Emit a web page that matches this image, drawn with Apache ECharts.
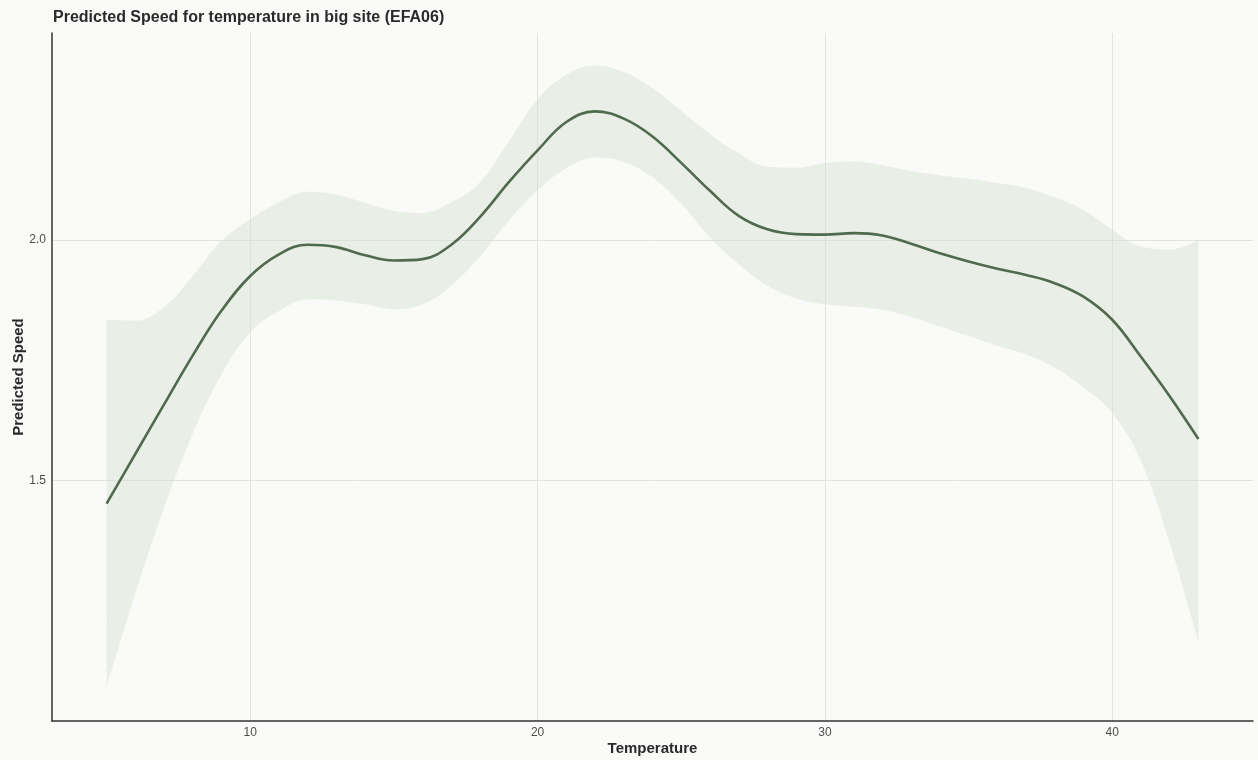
<!DOCTYPE html>
<html>
<head>
<meta charset="utf-8">
<title>Predicted Speed for temperature in big site (EFA06)</title>
<script src="https://cdn.jsdelivr.net/npm/echarts@6/dist/echarts.min.js"></script>
<style>
    html, body { margin: 0; padding: 0; background: #fafaf8; }
    #chart { width: 1258px; height: 760px; }
</style>
</head>
<body>
<div id="chart"></div>
<script>
// temperature values along the fitted curve
let temperature = [5, 6, 7, 8, 9, 10, 11, 12, 13, 14, 15, 16, 17, 18, 19, 20, 21, 22, 23, 24,
    25, 26, 27, 28, 29, 30, 31, 32, 33, 34, 35, 36, 37, 38, 39, 40, 41, 42, 43]

// predicted speed (fit)
let fit = [1.452, 1.555, 1.658, 1.760, 1.853, 1.925, 1.970, 1.990, 1.985, 1.968,
    1.957, 1.960, 1.990, 2.048, 2.120, 2.186, 2.245, 2.267, 2.252, 2.215,
    2.160, 2.102, 2.050, 2.022, 2.012, 2.011, 2.014, 2.009, 1.992, 1.972,
    1.955, 1.940, 1.927, 1.910, 1.882, 1.834, 1.757, 1.675, 1.586]

// confidence band
let upper = [1.834, 1.832, 1.860, 1.925, 1.998, 2.043, 2.078, 2.100, 2.094, 2.077,
    2.060, 2.056, 2.078, 2.120, 2.205, 2.292, 2.343, 2.362, 2.349, 2.315,
    2.268, 2.220, 2.180, 2.152, 2.150, 2.160, 2.163, 2.155, 2.143, 2.134,
    2.127, 2.118, 2.108, 2.088, 2.062, 2.021, 1.986, 1.980, 2.000]
let lower = [1.070, 1.265, 1.443, 1.597, 1.720, 1.808, 1.852, 1.876, 1.874, 1.866,
    1.856, 1.866, 1.905, 1.966, 2.040, 2.103, 2.149, 2.171, 2.162, 2.130,
    2.075, 2.005, 1.950, 1.905, 1.878, 1.866, 1.861, 1.855, 1.840, 1.820,
    1.800, 1.780, 1.762, 1.735, 1.693, 1.640, 1.540, 1.370, 1.164]

// rows are [speed, temperature] so the stack goes on the speed column
let fitData = []
let lowerData = []
let bandData = []
for (let i = 0; i < temperature.length; i++) {
    fitData.push([fit[i], temperature[i]])
    lowerData.push([lower[i], temperature[i]])
    bandData.push([+(upper[i] - lower[i]).toFixed(3), temperature[i]])
}

const font = 'Liberation Sans, Arial, Helvetica, sans-serif'
const bg = '#fafaf8'

option = {
    backgroundColor: bg,
    animation: false,
    title: {
        text: 'Predicted Speed for temperature in big site (EFA06)',
        left: 48,
        top: 5,
        textStyle: {
            fontFamily: font,
            fontSize: 16,
            fontWeight: 'bold',
            color: '#2a2a2a'
        }
    },
    grid: {
        left: 52,
        right: 5,
        top: 33,
        bottom: 39,
        outerBoundsMode: 'none'
    },
    xAxis: {
        type: 'value',
        min: 3.1,
        max: 44.9,
        splitNumber: 5,
        name: 'Temperature',
        nameLocation: 'middle',
        nameGap: 20,
        nameMoveOverlap: false,
        nameTextStyle: {
            fontFamily: font,
            fontSize: 15,
            fontWeight: 'bold',
            color: '#2a2a2a'
        },
        axisLine: { show: true, lineStyle: { color: '#333', width: 1.5 } },
        axisTick: { show: false },
        axisLabel: {
            showMinLabel: false,
            showMaxLabel: false,
            margin: 6,
            fontFamily: font,
            fontSize: 12,
            color: '#4d4d4d'
        },
        splitLine: {
            show: true,
            showMinLine: false,
            showMaxLine: false,
            lineStyle: { color: '#e3e3e1', width: 1 }
        }
    },
    yAxis: {
        type: 'value',
        min: 1.0,
        max: 2.43,
        interval: 0.5,
        name: 'Predicted Speed',
        nameLocation: 'middle',
        nameGap: 26,
        nameMoveOverlap: false,
        nameTextStyle: {
            fontFamily: font,
            fontSize: 15,
            fontWeight: 'bold',
            color: '#2a2a2a'
        },
        axisLine: { show: true, lineStyle: { color: '#333', width: 1.5 } },
        axisTick: { show: false },
        axisLabel: {
            showMinLabel: false,
            showMaxLabel: false,
            margin: 6,
            fontFamily: font,
            fontSize: 12,
            color: '#4d4d4d',
            formatter: function (v) { return v.toFixed(1) }
        },
        splitLine: {
            show: true,
            showMinLine: false,
            showMaxLine: false,
            lineStyle: { color: '#e3e3e1', width: 1 }
        }
    },
    series: [
        {
            name: 'lower',
            type: 'line',
            data: lowerData,
            encode: { x: 1, y: 0 },
            stack: 'band',
            smooth: 0.4,
            symbol: 'none',
            lineStyle: { width: 0, opacity: 0 },
            silent: true
        },
        {
            name: 'band',
            type: 'line',
            data: bandData,
            encode: { x: 1, y: 0 },
            stack: 'band',
            smooth: 0.4,
            symbol: 'none',
            lineStyle: { width: 0, opacity: 0 },
            areaStyle: { color: 'rgba(212,223,210,0.62)' },
            silent: true
        },
        {
            name: 'fit',
            type: 'line',
            data: fitData,
            encode: { x: 1, y: 0 },
            smooth: 0.4,
            symbol: 'none',
            lineStyle: { color: '#506a4e', width: 2.6 },
            z: 5
        }
    ]
}

const dom = document.getElementById("chart")
const myChart = echarts.init(dom)
if (option && typeof option === "object") {
    myChart.setOption(option, true)
}
</script>
</body>
</html>
